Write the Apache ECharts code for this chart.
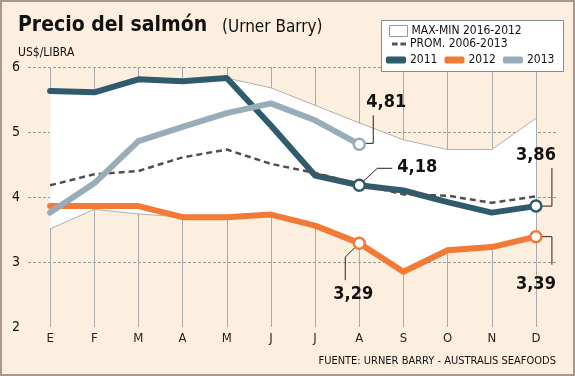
<!DOCTYPE html>
<html>
<head>
<meta charset="utf-8">
<script src="https://cdn.jsdelivr.net/npm/echarts@6/dist/echarts.min.js"></script>
<style>
	html,body{margin:0;padding:0;background:#fcefdf;}
	#chart{width:575px;height:376px;}
</style>
</head>
<body>
<div id="chart"></div>
<script>
	// meses
	var months = ['E','F','M','A','M','J','J','A','S','O','N','D'];
	var yTicks = [2, 3, 4, 5, 6];
	// banda max-min
	var bandMax = [5.63,5.61,5.81,5.78,5.83,5.68,5.41,5.14,4.88,4.73,4.73,5.21];
	var bandMin = [3.51,3.81,3.74,3.69,3.69,3.73,3.56,3.29,2.85,3.18,3.23,3.39];
	// promedio 2006-2013
	var prom = [4.18,4.35,4.40,4.61,4.73,4.51,4.37,4.20,4.04,4.02,3.91,4.01];
	var y2011 = [5.63,5.61,5.81,5.78,5.83,5.10,4.33,4.18,4.10,3.92,3.76,3.86];
	var y2012 = [3.86,3.86,3.86,3.69,3.69,3.73,3.56,3.29,2.85,3.18,3.23,3.39];
	var y2013 = [3.76,4.21,4.86,5.08,5.29,5.44,5.18,4.81];

	var colors = {'2011':'#2f5b6d','2012':'#f27a36','2013':'#99adb8'};
	var font = "'DejaVu Sans Condensed','DejaVu Sans',sans-serif";

	// puntos con etiqueta: serie, indice, guia (offsets px), posicion del texto
	var notes = [
		{s:'2013', i:7, guide:[[5,-1],[14,-1],[14,-29]], tx:27, ty:-42},
		{s:'2011', i:7, guide:[[4,-4],[18,-17],[33,-17]], tx:58, ty:-18},
		{s:'2012', i:7, guide:[[-4,4],[-14,14],[-14,37]], tx:-6, ty:51},
		{s:'2011', i:11, guide:[[5,0],[16,0],[16,-38]], tx:0, ty:-51},
		{s:'2012', i:11, guide:[[5,0],[16,0],[16,28]], tx:0, ty:48}
	];
	var seriesData = {'2011':y2011,'2012':y2012,'2013':y2013};

	var diff = bandMax.map(function(v,i){ return +(v - bandMin[i]).toFixed(2); });

	function yearLine(name, data, z){
		return {
			name: name, type: 'line', data: data, z: z,
			symbol: 'none', smooth: false,
			lineStyle: {color: colors[name], width: 6, cap: 'round', join: 'round'},
			itemStyle: {color: colors[name]},
			emphasis: {disabled: true}
		};
	}

	var markerData = {'2011':[], '2012':[], '2013':[]};
	notes.forEach(function(n){ markerData[n.s].push([n.i, seriesData[n.s][n.i]]); });

	var legendText = {fontFamily: font, fontSize: 12, color: '#111', padding: [0,0,0,-1]};

	var chart = echarts.init(document.getElementById('chart'));
	var option = {
		backgroundColor: '#fcefdf',
		animation: false,
		textStyle: {fontFamily: font},
		title: [
			{text: 'Precio del salmón', left: 13, top: 10,
				textStyle: {fontFamily: font, fontSize: 21, fontWeight: 'bold', color: '#111'}},
			{text: '(Urner Barry)', left: 217, top: 14,
				textStyle: {fontFamily: font, fontSize: 17, fontWeight: 'normal', color: '#111'}},
			{text: 'US$/LIBRA', left: 13, top: 42,
				textStyle: {fontFamily: font, fontSize: 12, fontWeight: 'normal', color: '#111'}},
			{text: 'FUENTE: URNER BARRY - AUSTRALIS SEAFOODS', right: 14, top: 351,
				textStyle: {fontFamily: font, fontSize: 11, fontWeight: 'normal', color: '#111'}}
		],
		legend: [
			{data: [{name: 'MAX-MIN 2016-2012', icon: 'rect',
					itemStyle: {color: '#fff', borderColor: '#999', borderWidth: 1}}],
				left: 389, top: 25, padding: 0, itemWidth: 18, itemHeight: 11, itemGap: 5,
				selectedMode: false, textStyle: legendText},
			{data: [{name: 'PROM. 2006-2013', icon: 'path://M0,0h6v3h-6z M9,0h6v3h-6z',
					itemStyle: {color: '#555'}}],
				left: 392, top: 38, padding: 0, itemWidth: 14, itemHeight: 3,
				selectedMode: false, textStyle: legendText},
			{data: [{name:'2011',icon:'roundRect'},{name:'2012',icon:'roundRect'},{name:'2013',icon:'roundRect'}],
				left: 386, top: 54, padding: 0, itemWidth: 20, itemHeight: 7, itemGap: 7,
				selectedMode: false, textStyle: legendText}
		],
		grid: {left: 28, right: 17, top: 67, bottom: 49, containLabel: false},
		xAxis: {
			type: 'category', data: months, boundaryGap: true,
			axisLine: {show: false},
			axisTick: {show: true, alignWithLabel: true, inside: true, length: 260,
				lineStyle: {color: '#a9a9a9', width: 1}},
			axisLabel: {margin: 5, fontFamily: font, fontSize: 13, color: '#222'},
			splitLine: {show: false}
		},
		yAxis: {
			type: 'value', min: yTicks[0], max: yTicks[yTicks.length-1], interval: 1,
			axisLine: {show: false}, axisTick: {show: false},
			axisLabel: {margin: 8, fontFamily: font, fontSize: 14, color: '#111'},
			splitLine: {show: true, lineStyle: {color: ['rgba(0,0,0,0)','#9a9a9a','#9a9a9a','#9a9a9a','#9a9a9a'], type: [3,2], width: 1}}
		},
		series: [
			{name: 'bandbase', type: 'line', stack: 'band', data: bandMin, symbol: 'none', z: 1,
				lineStyle: {width: 0, opacity: 0}, silent: true},
			{name: 'MAX-MIN 2016-2012', type: 'line', stack: 'band', data: diff, symbol: 'none', z: 1,
				lineStyle: {width: 0, opacity: 0}, areaStyle: {color: '#ffffff', opacity: 1},
				itemStyle: {color: '#fff'}, silent: true},
			{name: 'maxline', type: 'line', data: bandMax, symbol: 'none', z: 2,
				lineStyle: {color: '#9d9d9d', width: 0.8}, silent: true},
			{name: 'minline', type: 'line', data: bandMin, symbol: 'none', z: 2,
				lineStyle: {color: '#9d9d9d', width: 0.8}, silent: true},
			yearLine('2012', y2012, 3),
			yearLine('2011', y2011, 4),
			{name: 'PROM. 2006-2013', type: 'line', data: prom, symbol: 'none', z: 5,
				lineStyle: {color: '#505050', width: 2.5, type: [6,4]},
				itemStyle: {color: '#505050'}},
			yearLine('2013', y2013, 6)
		].concat(['2011','2012','2013'].map(function(k){
			return {type: 'scatter', data: markerData[k], symbol: 'circle', symbolSize: 11, z: 8,
				itemStyle: {color: '#fff', borderColor: colors[k], borderWidth: 2.5, opacity: 1}, silent: true};
		}))
	};
	chart.setOption(option);

	// guias y etiquetas de valores
	var gr = [
		{type: 'rect', z: 3, shape: {x: 381.5, y: 20.5, width: 182, height: 51},
			style: {fill: '#fff', stroke: '#8a8a8a', lineWidth: 1}},
		{type: 'rect', z: 100, shape: {x: 1, y: 1, width: 573, height: 374},
			style: {fill: 'none', stroke: '#ab978b', lineWidth: 2}}
	];
	notes.forEach(function(n){
		var v = seriesData[n.s][n.i];
		var p = chart.convertToPixel({xAxisIndex: 0, yAxisIndex: 0}, [n.i, v]);
		gr.push({type: 'polyline', z: 7,
			shape: {points: n.guide.map(function(o){ return [p[0]+o[0], p[1]+o[1]]; })},
			style: {stroke: '#222', lineWidth: 1, fill: null}});
		gr.push({type: 'text', z: 9, x: p[0]+n.tx, y: p[1]+n.ty,
			style: {text: v.toFixed(2).replace('.', ','), font: "bold 18px " + font,
				fill: '#111', align: 'center', verticalAlign: 'middle'}});
	});
	chart.setOption({graphic: gr});
</script>
</body>
</html>
